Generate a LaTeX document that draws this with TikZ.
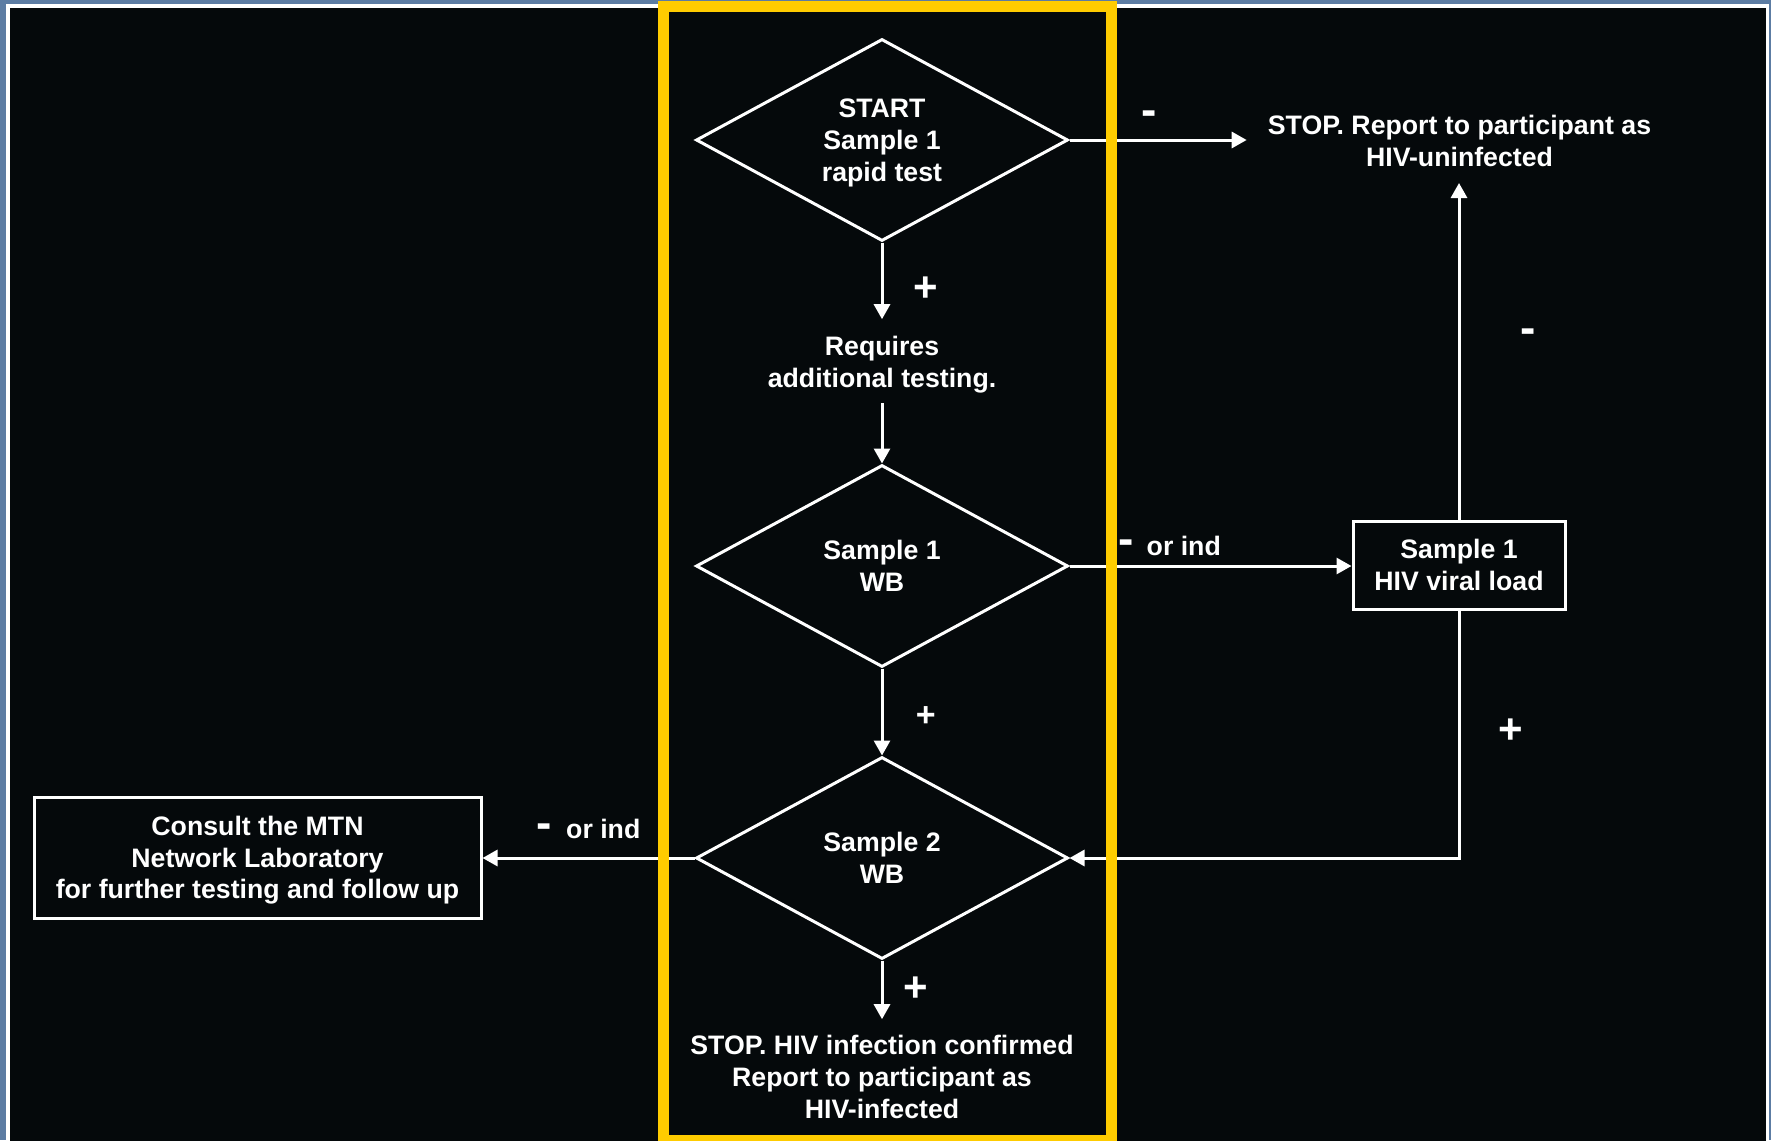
\documentclass[tikz,border=0pt]{standalone}
\usepackage{fontspec}
\setmainfont{Liberation Sans}
\usepackage{tikz}
\usetikzlibrary{arrows.meta,shapes.geometric}
\definecolor{slideblue}{RGB}{92,124,163}
\definecolor{slideblack}{RGB}{5,9,11}
\definecolor{boxyellow}{RGB}{255,204,0}
\tikzset{
	txt/.style={text=white, font=\bfseries\fontsize{26.7}{31.8}\selectfont, align=center, inner sep=0pt},
	test/.style={txt, text depth=0pt, draw=white, line width=3pt, shape=diamond, aspect=1.84, minimum width=372pt, minimum height=202pt},
	box/.style={txt, text depth=0pt, draw=white, line width=3pt, fill=slideblack},
	flow/.style={draw=white, line width=3pt, -{Triangle[length=15pt,width=16pt]}},
	plus/.style={text=white, font=\bfseries\fontsize{42}{42}\selectfont, inner sep=0pt, anchor=base},
	minus/.style={text=white, font=\bfseries\fontsize{46}{46}\selectfont, inner sep=0pt, anchor=base},
}

\begin{document}
\begin{tikzpicture}[x=1pt, y=-1pt]
			%%%%% START %%%%%
			
			\useasboundingbox (0, 0) rectangle (1771, 1140);
			\clip (0, 0) rectangle (1771, 1140);
			\fill[slideblue] (0, 0) rectangle (1771, 1140);
			\fill[white] (6, 4) rectangle (1769, 1150);
			\fill[slideblack] (10, 8) rectangle (1766, 1150);
			
			\node[test] (start) at (882, 140) {START\\Sample 1\\rapid test};
			\node[txt] (addtest) at (882, 364.8) {Requires\\additional testing.};
			\node[test] (wb1) at (882, 566) {Sample 1\\WB};
			\node[test] (wb2) at (882, 858) {Sample 2\\WB};
			\node[txt] (stoppos) at (882, 1077) {STOP. HIV infection confirmed\\Report to participant as\\HIV-infected};
			
			\node[txt] (stopneg) at (1459.5, 140.6) {STOP. Report to participant as\\HIV-uninfected};
			\node[box, minimum width=212pt, minimum height=88pt] (viral) at (1459, 565) {Sample 1\\HIV viral load};
			\node[box, minimum width=447pt, minimum height=121pt] (consult) at (257.5, 857.5) {Consult the MTN\\Network Laboratory\\for further testing and follow up};
			
			\draw[flow, shorten >=21pt] (start.east) -- (start.east -| stopneg.west);
			\draw[flow, shorten >=17pt] (start.south) -- (addtest.north);
			\draw[flow, shorten <=10pt] (addtest.south) -- (wb1.north);
			\draw[flow] (wb1.east) -- (wb1.east -| viral.west);
			\draw[flow, shorten >=16.5pt] (viral.north) -- (viral.north |- stopneg.south);
			\draw[flow] (wb1.south) -- (wb2.north);
			\draw[flow] (viral.south) |- (wb2.east);
			\draw[flow] (wb2.west) -- (wb2.west -| consult.east);
			\draw[flow, shorten >=16pt] (wb2.south) -- (stoppos.north);
			
			\node[minus] (neg1) at (1149.5, 125) {-};
			\node[plus] (pos1) at (925.7, 301.4) {+};
			\node[minus] (neg2) at (1527.7, 343.7) {-};
			\node[minus] (neg3) at (1125.8, 554.4) {-};
			\node[txt, anchor=base west] (ind1) at (1146.5, 555) {or ind};
			\node[plus, font=\bfseries\fontsize{34}{34}\selectfont] (pos2) at (925.7, 726.9) {+};
			\node[plus] (pos3) at (1511, 743.7) {+};
			\node[minus] (neg4) at (543.8, 838.4) {-};
			\node[txt, anchor=base west] (ind2) at (566, 838) {or ind};
			\node[plus] (pos4) at (916, 1001.4) {+};
			
			\draw[line width=11pt, color=boxyellow] (663.5, 6.5) rectangle (1111.5, 1140.5);
			
			%%%%% END %%%%%
\end{tikzpicture}
\end{document}
